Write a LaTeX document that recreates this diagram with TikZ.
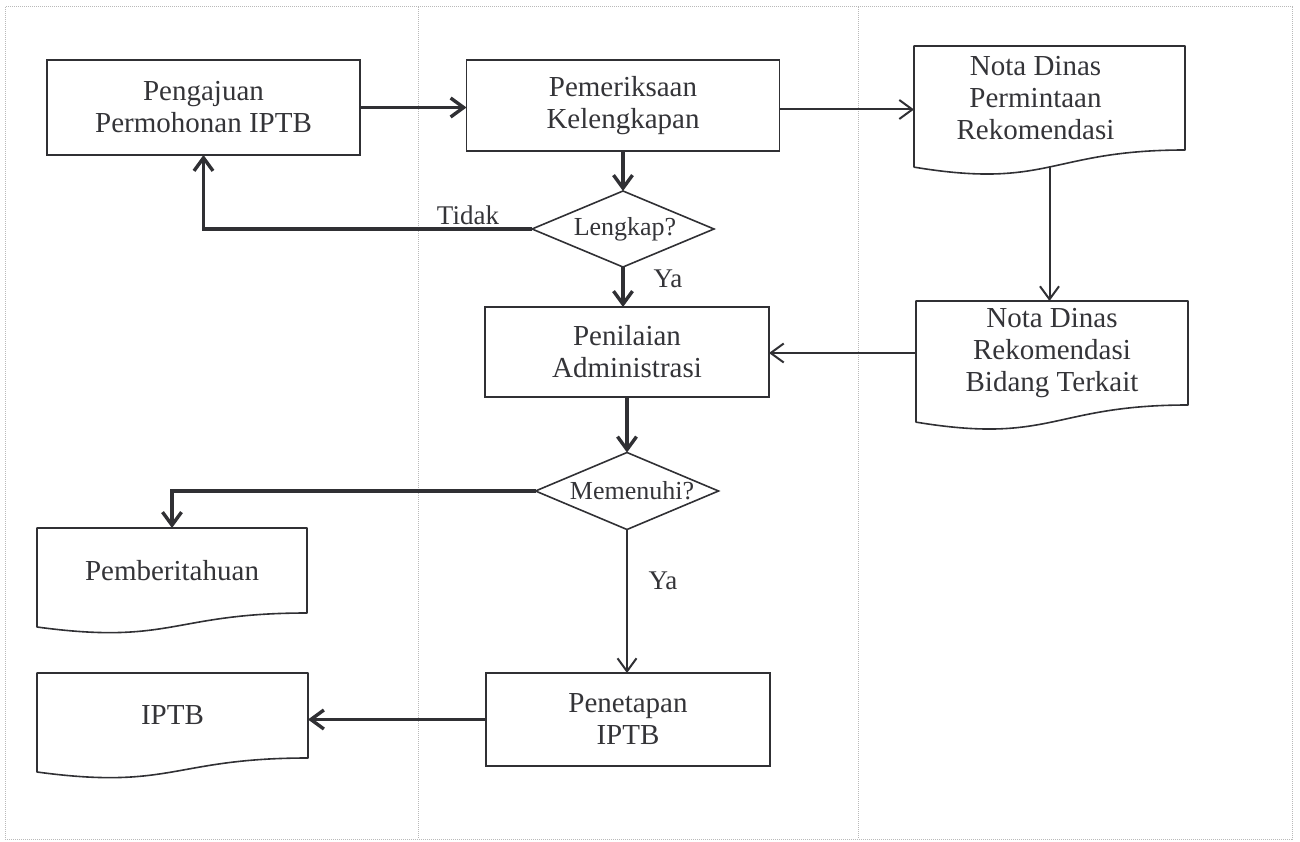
\documentclass[tikz,border=0pt]{standalone}
\usepackage{fontspec}
\setmainfont{Liberation Serif}
\usetikzlibrary{arrows.meta,shapes.geometric,calc}

\definecolor{ink}{RGB}{48,48,52}
\definecolor{txt}{RGB}{52,52,56}
\definecolor{guide}{RGB}{185,185,185}

% outline of a flowchart "document" symbol around a node:
% the node covers the straight part, the wavy edge hangs below it
\newcommand{\docframe}[1]{%
  \draw[ink, line width=1.6pt, line join=round]
    let \p1=(#1.north west), \p2=(#1.south east) in
    (\p1) -- (\x2,\y1) -- (\p2)
    .. controls ({0.5*(\x1+\x2)},\y2) and ({0.5*(\x1+\x2)},{\y1-1.3809*(\y1-\y2)})
    .. (\x1,{\y1-1.1646*(\y1-\y2)}) -- cycle;}

\begin{document}
\begin{tikzpicture}[x=1pt,y=-1pt,
  every node/.style={inner sep=0pt, outer sep=0pt, text=txt},
  boxtext/.style={font=\fontsize{29}{32}\selectfont, align=center},
  procbox/.style={boxtext, rectangle, draw=ink, line width=1.6pt},
  docnode/.style={boxtext, rectangle},
  decision/.style={diamond, draw=ink, line width=1.6pt, font=\fontsize{26}{30}\selectfont},
  lbl/.style={font=\fontsize{27}{30}\selectfont},
  tip/.style={-{Straight Barb[length=13pt,width=19pt]}},
  heavy/.style={tip, draw=ink, line width=3.4pt},
  light/.style={tip, draw=ink, line width=2pt},
  lane/.style={draw=guide, densely dotted, line width=1pt}
]
\useasboundingbox (0,0) rectangle (1300,842);

% swimlane frame
\draw[lane] (5,7) rectangle (1292,839);
\draw[lane] (418,7) -- (418,839);
\draw[lane] (858,7) -- (858,839);

% process steps
\node[procbox, minimum width=313pt, minimum height=95pt] (ajuan) at (203.5,107.5)
  {Pengajuan\\Permohonan IPTB};
\node[procbox, minimum width=313pt, minimum height=91pt] (periksa) at (623,105.5)
  {Pemeriksaan\\Kelengkapan};
\node[procbox, minimum width=284pt, minimum height=90pt] (nilai) at (627,352)
  {Penilaian\\Administrasi};
\node[procbox, minimum width=284pt, minimum height=93pt] (tetap) at (628,719.5)
  {Penetapan\\IPTB};

% decisions
\node[decision, minimum width=182pt, minimum height=76pt] (lengkap) at (623,229)
  {\makebox[0pt]{\hspace*{4pt}Lengkap?}};
\node[decision, minimum width=183pt, minimum height=77pt] (penuh) at (627,491)
  {\makebox[0pt]{\hspace*{10pt}Memenuhi?}};

% documents
\node[docnode, minimum width=271pt, minimum height=104pt] (nota1) at (1049.5,98)
  {\hspace*{-28pt}Nota Dinas\\\hspace*{-28pt}Permintaan\\\hspace*{-28pt}Rekomendasi};
\node[docnode, minimum width=272pt, minimum height=104pt] (nota2) at (1052,353)
  {Nota Dinas\\Rekomendasi\\Bidang Terkait};
\node[docnode, minimum width=270pt, minimum height=85pt] (beritahu) at (172,570.5)
  {Pemberitahuan};
\node[docnode, minimum width=271pt, minimum height=85pt] (iptb) at (172.5,715.5)
  {IPTB};
\docframe{nota1}
\docframe{nota2}
\docframe{beritahu}
\docframe{iptb}

% wave bottom of the first note, where its outgoing connector starts
\coordinate (nota1wave) at ([yshift=-17pt]nota1.south);

% connectors
\draw[heavy] (ajuan.east) -- (ajuan.east -| periksa.west);
\draw[light] ([yshift=-4pt]periksa.east) -- ([yshift=-4pt]periksa.east -| nota1.west);
\draw[heavy] (periksa.south) -- (lengkap.north);
\draw[heavy] (lengkap.west) -| (ajuan.south);
\draw[heavy] (lengkap.south) -- (lengkap.south |- nilai.north);
\draw[light] (nota1wave) -- (nota1wave |- nota2.north);
\draw[light] (nota2.west) -- (nota2.west -| nilai.east);
\draw[heavy] (nilai.south) -- (nilai.south -| penuh.north) -- (penuh.north);
\draw[heavy] (penuh.west) -| (beritahu.north);
\draw[light] (penuh.south) -- (penuh.south |- tetap.north);
\draw[heavy] (tetap.west) -- (tetap.west -| iptb.east);

% branch labels
\node[lbl] (tidak) at (468,215) {Tidak};
\node[lbl] (ya1) at (668,279) {Ya};
\node[lbl] (ya2) at (663,581) {Ya};
\end{tikzpicture}
\end{document}
